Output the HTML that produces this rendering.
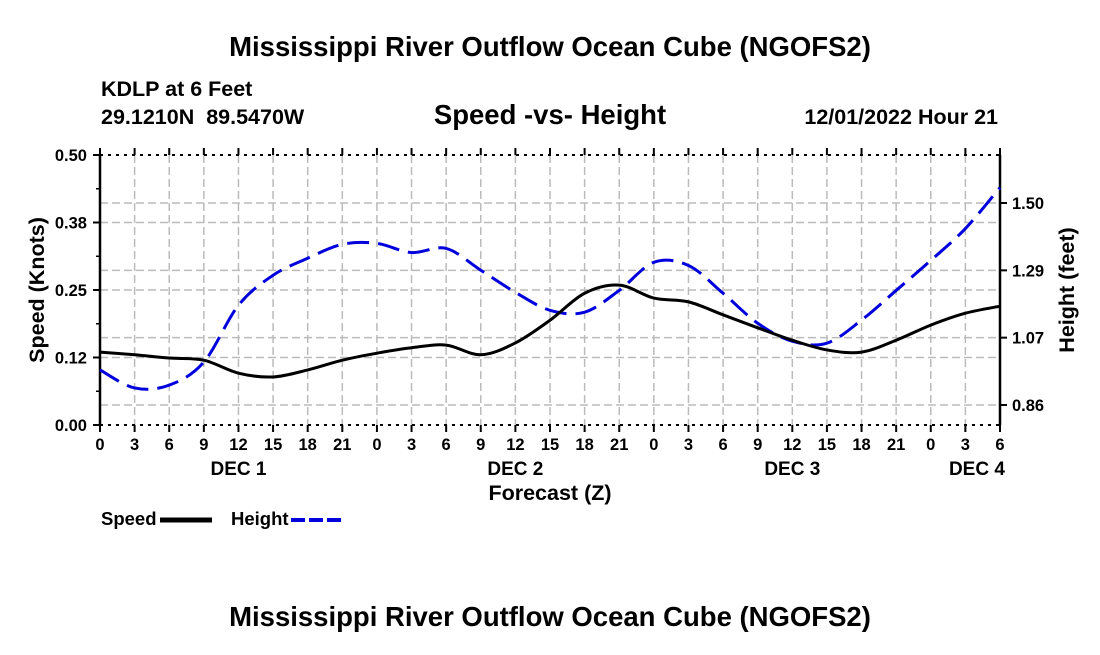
<!DOCTYPE html>
<html><head><meta charset="utf-8"><style>
body{margin:0;background:#fff;width:1100px;height:650px;overflow:hidden}
svg text{font-family:"Liberation Sans",sans-serif;font-weight:bold;fill:#000}
</style></head><body>
<svg id="c" width="1100" height="650">
<text x="550" y="56" font-size="27.5" text-anchor="middle">Mississippi River Outflow Ocean Cube (NGOFS2)</text>
<text x="101" y="96" font-size="21.5">KDLP at 6 Feet</text>
<text x="101" y="124" font-size="21.5" xml:space="preserve">29.1210N  89.5470W</text>
<text x="550" y="124" font-size="27.5" text-anchor="middle">Speed -vs- Height</text>
<text x="998" y="124" font-size="21.5" text-anchor="end">12/01/2022 Hour 21</text>
<g id="grid"></g><g id="axes"></g><g id="series"></g>
<text x="550" y="500" font-size="21.5" text-anchor="middle">Forecast (Z)</text>
<text transform="translate(44,290) rotate(-90)" font-size="21.5" text-anchor="middle">Speed (Knots)</text>
<text transform="translate(1074,290) rotate(-90)" font-size="21.5" text-anchor="middle">Height (feet)</text>
<g><text x="101" y="525" font-size="18.5">Speed</text><line x1="160" y1="520" x2="212" y2="520" stroke="#000" stroke-width="5"/></g>
<g><text x="231" y="525" font-size="18.5">Height</text><line x1="291" y1="520" x2="343" y2="520" stroke="#0000dd" stroke-width="4" stroke-dasharray="14,4"/></g>
<text x="550" y="626" font-size="27.5" text-anchor="middle">Mississippi River Outflow Ocean Cube (NGOFS2)</text>
</svg>
<script>
const hours=[0,3,6,9,12,15,18,21,24,27,30,33,36,39,42,45,48,51,54,57,60,63,66,69,72,75,78];
const speed=[0.135,0.130,0.124,0.120,0.096,0.089,0.102,0.120,0.133,0.143,0.148,0.130,0.152,0.194,0.244,0.259,0.235,0.228,0.204,0.180,0.157,0.139,0.135,0.157,0.185,0.207,0.220];
const height=[0.971,0.914,0.923,0.996,1.176,1.271,1.325,1.369,1.372,1.343,1.356,1.287,1.217,1.160,1.154,1.223,1.312,1.302,1.214,1.119,1.062,1.056,1.129,1.223,1.318,1.419,1.549];
const speedTicks=["0.00","0.12","0.25","0.38","0.50"];
const heightTicks=["0.86","1.07","1.29","1.50"];
const hourLabels=["0","3","6","9","12","15","18","21","0","3","6","9","12","15","18","21","0","3","6","9","12","15","18","21","0","3","6"];
const dayLabels=[["DEC 1",12],["DEC 2",36],["DEC 3",60],["DEC 4",76]];
const L=100,R=1000,T=155,B=425;
const x=h=>L+(h-0)/78*(R-L);
const yS=v=>B-v/0.5*(B-T);
const yH=v=>405-(v-0.86)/(1.50-0.86)*(405-203);
const NS="http://www.w3.org/2000/svg";
function mk(p,t,a){const e=document.createElementNS(NS,t);for(const k in a)e.setAttribute(k,a[k]);p.appendChild(e);return e;}
const G=document.getElementById('grid'),A=document.getElementById('axes'),S=document.getElementById('series');
hourLabels.forEach((l,i)=>{const xx=x(i*3);
 if(i>0&&i<hourLabels.length-1){const g=mk(G,'line',{x1:xx,x2:xx,y1:T,y2:B,stroke:'#bbb','stroke-width':1.5,'stroke-dasharray':'8,4'});
 }
 const tk=mk(A,'line',{x1:xx,x2:xx,y1:B,y2:B+7,stroke:'#000','stroke-width':2});
 
 mk(A,'line',{x1:xx,x2:xx,y1:T,y2:T-7,stroke:'#000','stroke-width':2});
 const t=mk(A,'text',{x:xx,y:B+25,'font-size':16.5,'text-anchor':'middle'});t.textContent=l;
 });
dayLabels.forEach(d=>{const t=mk(A,'text',{x:x(d[1]),y:B+50,'font-size':19,'text-anchor':'middle'});t.textContent=d[0];
 });
speedTicks.forEach((l,i)=>{const yy=yS(i*0.125);
 if(i>0&&i<4){const g=mk(G,'line',{x1:L,x2:R,y1:yy,y2:yy,stroke:'#bbb','stroke-width':1.5,'stroke-dasharray':'8,4'});
 }
 mk(A,'line',{x1:L-7,x2:L,y1:yy,y2:yy,stroke:'#000','stroke-width':2});
 if(i<4)mk(A,'line',{x1:L-4,x2:L,y1:yy-33.75,y2:yy-33.75,stroke:'#000','stroke-width':1.5});
 const t=mk(A,'text',{x:L-13,y:yy+6,'font-size':16.5,'text-anchor':'end'});t.textContent=l;
 });
heightTicks.forEach((l,i)=>{const yy=yH(0.86+i*(0.64/3));
 const g=mk(G,'line',{x1:L,x2:R,y1:yy,y2:yy,stroke:'#bbb','stroke-width':1.5,'stroke-dasharray':'8,4'});
 
 mk(A,'line',{x1:R,x2:R+7,y1:yy,y2:yy,stroke:'#000','stroke-width':2});
 const t=mk(A,'text',{x:R+12,y:yy+6,'font-size':16.5});t.textContent=l;
 });
[T,B].forEach(yy=>mk(A,'line',{x1:L,x2:R,y1:yy,y2:yy,stroke:'#000','stroke-width':2,'stroke-dasharray':'3,5'}));
mk(A,'line',{x1:L,x2:L,y1:T,y2:B,stroke:'#000','stroke-width':2.5});
mk(A,'line',{x1:R,x2:R,y1:T,y2:B,stroke:'#000','stroke-width':2.5});
function path(pts){let d=`M${pts[0][0]},${pts[0][1]}`;
 for(let i=0;i<pts.length-1;i++){const p0=pts[i-1]||pts[i],p1=pts[i],p2=pts[i+1],p3=pts[i+2]||p2;
 d+=` C${p1[0]+(p2[0]-p0[0])/6},${p1[1]+(p2[1]-p0[1])/6} ${p2[0]-(p3[0]-p1[0])/6},${p2[1]-(p3[1]-p1[1])/6} ${p2[0]},${p2[1]}`;}return d;}
const ph=mk(S,'path',{d:path(hours.map((h,i)=>[x(h),yH(height[i])])),fill:'none',stroke:'#0000dd','stroke-width':3,'stroke-dasharray':'22,9'});

const ps=mk(S,'path',{d:path(hours.map((h,i)=>[x(h),yS(speed[i])])),fill:'none',stroke:'#000','stroke-width':3});

</script>
</body></html>
